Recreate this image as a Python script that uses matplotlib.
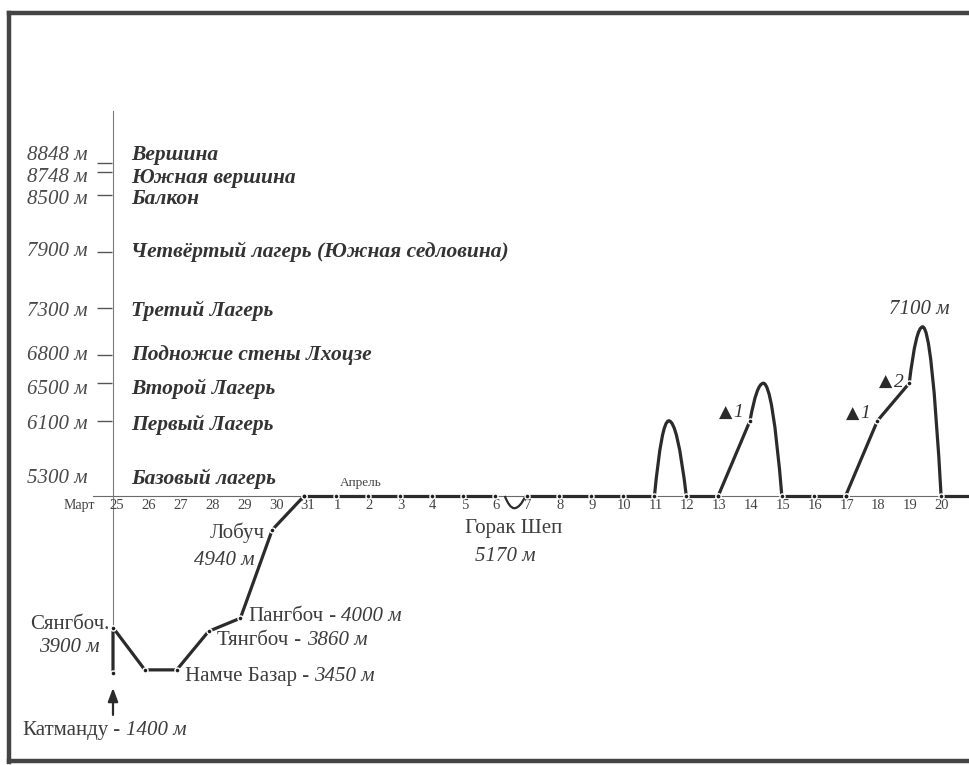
import numpy as np
import matplotlib
matplotlib.use("Agg")
import matplotlib.pyplot as plt
from matplotlib.path import Path
from matplotlib.patches import PathPatch
from matplotlib.lines import Line2D

# left scale: altitude levels and their names
level_alts = [8848, 8748, 8500, 7900, 7300, 6800, 6500, 6100, 5300]
level_names = ["Вершина", "Южная вершина", "Балкон",
               "Четвёртый лагерь (Южная седловина)", "Третий Лагерь",
               "Подножие стены Лхоцзе", "Второй Лагерь", "Первый Лагерь",
               "Базовый лагерь"]
tick_alts = [8848, 8748, 8500, 7900, 7300, 6800, 6500, 6100]

# date axis, day 0 = 25 March
day_labels = ["25", "26", "27", "28", "29", "30", "31"] + [str(d) for d in range(1, 22)]

# approach trek from Kathmandu to base camp
trek_days = [0, 0, 1, 2, 3, 4, 5, 6]
trek_alts = [1400, 3900, 3450, 3450, 3860, 4000, 4940, 5300]

# days at base camp (first day, last day)
base_alt = 5300
base_stretches = [(6, 12), (13, 17), (18, 19), (21, 23), (26, 27)]

# straight climbs between camps
climb_days = [[19, 20], [23, 24, 25]]
climb_alts = [[5300, 6100], [5300, 6100, 6500]]

# excursions: start, turning point, end
arc_days = [(12.3, 12.6, 12.95), (17, 17.45, 18), (20, 20.42, 21), (25, 25.42, 26)]
arc_alts = [(5300, 5170, 5300), (5300, 6100, 5300), (6100, 6500, 5300), (6500, 7100, 5300)]

# named stops
place_names = ["Катманду", "Сянгбоч.", "Намче Базар", "Тянгбоч", "Пангбоч", "Лобуч", "Горак Шеп"]
place_heights = ["1400 м", "3900 м", "3450 м", "3860 м", "4000 м", "4940 м", "5170 м"]
place_days = [0, 0, 2, 3, 4, 5, 12.6]
place_alts = [1400, 3900, 3450, 3860, 4000, 4940, 5170]

# camp marks on the climbs
camp_numbers = ["1", "1", "2"]
camp_days = [20, 24, 25]
camp_alts = [6100, 6100, 6500]

SERIF = ["Liberation Serif", "DejaVu Sans"]
TXT = "#3d3d3d"
LINE = "#2b2b2b"
PX = 0.72  # points per pixel
FS = 15


# the flight from Kathmandu is drawn with a break in the altitude scale
def fwd(a):
    return np.interp(a, [-1e5, 1400, 3420, 1e5], [-1e5 + 2018, 3418, 3420, 1e5])


def inv(v):
    return np.interp(v, [-1e5 + 2018, 3418, 3420, 1e5], [-1e5, 1400, 3420, 1e5])


fig = plt.figure(figsize=(9.7, 7.65), dpi=100)
ax = fig.add_axes([0, 0, 1, 1])
ax.set_yscale("function", functions=(fwd, inv))
ax.set_xlim(-113 / 31.85, 857 / 31.85)
ax.set_ylim(420, 10577)
ax.axis("off")

# page frame
for xs, ys in [([9, 9], [13, 762]), ([9, 975], [13, 13]), ([9, 975], [761, 761])]:
    fig.add_artist(Line2D([x / 970 for x in xs], [1 - y / 765 for y in ys],
                          transform=fig.transFigure, color="#444444", lw=3.2))

# axes lines
ax.plot([-0.63, 28], [base_alt, base_alt], color="#6a6a6a", lw=0.8, zorder=1)
ax.plot([0, 0], [3900, 9400], color="#7a7a7a", lw=0.8, zorder=1)
ax.hlines(tick_alts, -0.5, -0.03, color="#555555", lw=1.0)

level_dy = [7.5, -6, -4, 0, -3, 0, -6, -4, 17]
for alt, name, dy in zip(level_alts, level_names, level_dy):
    ax.annotate(f"{alt} м", (0, alt), xytext=(-25 * PX, dy * PX), textcoords="offset points",
                ha="right", va="center", fontsize=15, style="italic", color="#4a4a4a", family=SERIF)
    ax.annotate(name, (0, alt), xytext=(18 * PX, dy * PX), textcoords="offset points",
                ha="left", va="center", fontsize=15.5, style="italic", weight="bold",
                color="#333333", family=SERIF)

# date labels
for i, lab in enumerate(day_labels):
    dx = 4 if i < 7 else 1
    ax.annotate(lab, (i, base_alt), xytext=(dx * PX, -10 * PX), textcoords="offset points",
                ha="center", va="center", fontsize=10.5, color="#444444", family=SERIF)
ax.annotate("Март", (0, base_alt), xytext=(-18 * PX, -10 * PX), textcoords="offset points",
            ha="right", va="center", fontsize=10, color="#444444", family=SERIF)
ax.annotate("Апрель", (7, base_alt), xytext=(25 * PX, 13 * PX), textcoords="offset points",
            ha="center", va="center", fontsize=9.5, color="#444444", family=SERIF)

# route
lw = 2.3
ax.plot(trek_days, trek_alts, color=LINE, lw=lw, solid_capstyle="round", zorder=3)
for a, b in base_stretches:
    ax.plot([a, b], [base_alt, base_alt], color=LINE, lw=lw, zorder=3)
for ds, al in zip(climb_days, climb_alts):
    ax.plot(ds, al, color=LINE, lw=lw, solid_capstyle="round", zorder=3)
for k, ((x0, xp, x1), (y0, yp, y1)) in enumerate(zip(arc_days, arc_alts)):
    verts = [(x0, y0), ((x0 + xp) / 2, yp), (xp, yp), ((xp + x1) / 2, yp), (x1, y1)]
    codes = [Path.MOVETO, Path.CURVE3, Path.CURVE3, Path.CURVE3, Path.CURVE3]
    ax.add_patch(PathPatch(Path(verts, codes), fill=False, edgecolor=LINE,
                           lw=1.6 if k == 0 else lw, zorder=3))

# stop dots
dot_x = list(trek_days)
dot_y = list(trek_alts)
for a, b in base_stretches:
    dot_x += list(range(a, b + 1))
    dot_y += [base_alt] * (b - a + 1)
for ds, al in zip(climb_days, climb_alts):
    dot_x += ds
    dot_y += al
ax.plot(dot_x, dot_y, "o", ms=6.5 * PX, mfc="white", mec="none", zorder=4)
ax.plot(dot_x, dot_y, "o", ms=3.6 * PX, mfc="#1e1e1e", mec="none", zorder=5)

# Kathmandu arrow
ax.annotate("", xy=(0, 1400), xytext=(0, -42 * PX), textcoords="offset points",
            arrowprops=dict(arrowstyle="-|>,head_length=0.8,head_width=0.3", lw=1.6,
                            color=LINE, shrinkA=0, shrinkB=15 * PX))


def place(i, dx, dy, ha="left", stacked=None):
    t = ax.annotate(place_names[i], (place_days[i], place_alts[i]), xytext=(dx * PX, dy * PX),
                    textcoords="offset points", ha=ha, va="center", fontsize=FS,
                    color=TXT, family=SERIF)
    if stacked is None:
        tail = ax.annotate(" - ", xy=(1, 0), xycoords=t, ha="left", va="bottom",
                           fontsize=FS, color=TXT, family=SERIF)
        ax.annotate(place_heights[i], xy=(1, 0), xycoords=tail, ha="left", va="bottom",
                    fontsize=FS, style="italic", color=TXT, family=SERIF)
    else:
        sdx, sdy, sha = stacked
        ax.annotate(place_heights[i], (place_days[i], place_alts[i]), xytext=(sdx * PX, sdy * PX),
                    textcoords="offset points", ha=sha, va="center", fontsize=FS,
                    style="italic", color=TXT, family=SERIF)


place(0, -91, -58)
place(1, -3, 3, "right", (-13, -20, "right"))
place(2, 8, -7)
place(3, 8.5, -9)
place(4, 8, 2)
place(5, -7, -3, "right", (-18, -31, "right"))
place(6, -1, -20, "center", (-9, -48, "center"))

camp_dx = [-7, -7, -6]
camp_dy = [8, 7, 1]
for num, d, a, dx, dy in zip(camp_numbers, camp_days, camp_alts, camp_dx, camp_dy):
    t = ax.annotate(num, (d, a), xytext=(dx * PX, dy * PX), textcoords="offset points",
                    ha="right", va="center", fontsize=14, style="italic", color="#333333",
                    family=SERIF)
    ax.annotate("▲", xy=(0, 0.5), xycoords=t, xytext=(-1, 0), textcoords="offset points",
                ha="right", va="center", fontsize=12.5, weight="bold", color="#2b2b2b",
                family=["DejaVu Sans"])

top = arc_alts[-1]
ax.annotate(f"{top[1]} м", (arc_days[-1][1], top[1]), xytext=(-3 * PX, 17 * PX),
            textcoords="offset points", ha="center", va="center", fontsize=FS,
            style="italic", color=TXT, family=SERIF)

fig.savefig("out.png", dpi=100)
